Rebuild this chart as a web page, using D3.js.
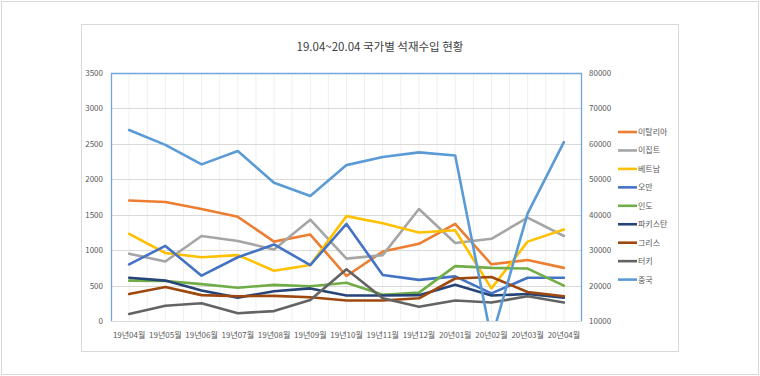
<!DOCTYPE html>
<html><head><meta charset="utf-8">
<script src="https://cdn.jsdelivr.net/npm/d3@7"></script>
<style>
html,body{margin:0;padding:0;background:#fff;}
svg text{font-family:"Noto Sans CJK KR","Noto Sans",sans-serif;}
</style></head>
<body><svg id="c" width="760" height="376"></svg>
<script>
const title = "19.04~20.04 국가별 석재수입 현황";
const months = ["19년04월","19년05월","19년06월","19년07월","19년08월","19년09월","19년10월","19년11월","19년12월","20년01월","20년02월","20년03월","20년04월"];
const leftTicks = [0,500,1000,1500,2000,2500,3000,3500];
const rightTicks = [10000,20000,30000,40000,50000,60000,70000,80000];

const seriesNames = ["이탈리아","이집트","베트남","오만","인도","파키스탄","그리스","터키","중국"];
const seriesColors = ["#ED7D31","#A5A5A5","#FFC000","#4472C4","#70AD47","#264478","#9E480E","#636363","#5B9BD5"];
const italy    = [1700,1680,1580,1470,1120,1220,635,980,1090,1370,800,860,750];
const egypt    = [950,840,1200,1130,1010,1430,880,930,1580,1100,1160,1460,1200];
const vietnam  = [1230,960,900,930,710,790,1480,1380,1250,1280,460,1120,1290];
const oman     = [800,1060,640,900,1080,790,1370,650,580,630,390,610,610];
const india    = [570,565,520,470,510,490,540,370,400,775,750,740,500];
const pakistan = [610,570,430,330,420,460,360,360,365,510,360,380,330];
const greece   = [380,480,365,350,355,335,290,290,320,600,620,410,350];
const turkey   = [100,215,250,110,140,295,730,320,200,290,260,350,260];
const china    = [63900,59700,54200,58000,49000,45300,54000,56300,57600,56700,4900,40400,60500];

const leftSeries = [italy,egypt,vietnam,oman,india,pakistan,greece,turkey];

const svg = d3.select("#c");
// frames
svg.append("rect").attr("x",1.5).attr("y",1.5).attr("width",757).attr("height",373)
  .attr("fill","#fff").attr("stroke","#d9d9d9").attr("stroke-width",1);
svg.append("rect").attr("x",81.5).attr("y",24.5).attr("width",597).attr("height",327)
  .attr("fill","#fff").attr("stroke","#d9d9d9").attr("stroke-width",1);

const L=111, R=582, T=73, B=321;
const x = d3.scaleBand().domain(months).range([L,R]);
const xc = d => x(d) + x.bandwidth()/2;
const yL = d3.scaleLinear().domain([0,3500]).range([B,T]);
const yR = d3.scaleLinear().domain([10000,80000]).range([B,T]);

// vertical grid (boundaries and centers)
const vg = svg.append("g");
months.forEach((m,i)=>{
  vg.append("line").attr("x1",xc(m)).attr("x2",xc(m)).attr("y1",T).attr("y2",B).attr("stroke","#efefef");
  if(i>0) vg.append("line").attr("x1",x(m)).attr("x2",x(m)).attr("y1",T).attr("y2",B).attr("stroke","#efefef");
});
// horizontal grid
svg.append("g").selectAll("line").data(leftTicks).join("line")
  .attr("x1",L).attr("x2",R).attr("y1",d=>Math.round(yL(d))+0.5).attr("y2",d=>Math.round(yL(d))+0.5)
  .attr("stroke","#d9d9d9").attr("stroke-width",1);

// axes
const gl = svg.append("g").attr("transform",`translate(${L},0)`)
  .call(d3.axisLeft(yL).tickValues(leftTicks).tickSize(0).tickPadding(8).tickFormat(d3.format("d")));
const gr = svg.append("g").attr("transform",`translate(${R},0)`)
  .call(d3.axisRight(yR).tickValues(rightTicks).tickSize(0).tickPadding(7).tickFormat(d3.format("d")));
const gb = svg.append("g").attr("transform",`translate(0,${B})`)
  .call(d3.axisBottom(x).tickSize(0).tickPadding(11));
[gl,gr,gb].forEach(g=>{
  g.select(".domain").remove();
  g.selectAll("text").attr("fill","#595959").attr("font-size","8px")
   .style("font-family",'"Noto Sans CJK KR","Noto Sans",sans-serif');
});
gb.selectAll("text").attr("font-size","8px");

// plot border (blue left/top/right)
svg.append("path").attr("d",`M${L+0.5},${B}V${T+0.5}H${R-0.5}V${B}`)
  .attr("fill","none").attr("stroke","#6fa6dc").attr("stroke-width",1.3);

// clip
svg.append("clipPath").attr("id","pc").append("rect").attr("x",L).attr("y",T).attr("width",R-L).attr("height",B-T);

const lineL = d3.line().x((d,i)=>xc(months[i])).y(d=>yL(d));
const lineR = d3.line().x((d,i)=>xc(months[i])).y(d=>yR(d));
const lg = svg.append("g").attr("clip-path","url(#pc)");
leftSeries.forEach((s,k)=>{
  lg.append("path").attr("d",lineL(s)).attr("fill","none").attr("stroke",seriesColors[k])
    .attr("stroke-width",2.6).attr("stroke-linejoin","round").attr("stroke-linecap","round");
});
lg.append("path").attr("d",lineR(china)).attr("fill","none").attr("stroke",seriesColors[8])
  .attr("stroke-width",2.6).attr("stroke-linejoin","round").attr("stroke-linecap","round");

// title
svg.append("text").attr("x",380).attr("y",51).attr("text-anchor","middle")
  .attr("font-size","11.5px").attr("fill","#404040").text(title);

// legend
const leg = svg.append("g");
seriesNames.forEach((n,i)=>{
  const yy = 132 + i*18.45;
  leg.append("line").attr("x1",618).attr("x2",637).attr("y1",yy).attr("y2",yy)
    .attr("stroke",seriesColors[i]).attr("stroke-width",2.6);
  leg.append("text").attr("x",638).attr("y",yy+3).attr("font-size","8px").attr("fill","#595959").text(n);
});
</script></body></html>
